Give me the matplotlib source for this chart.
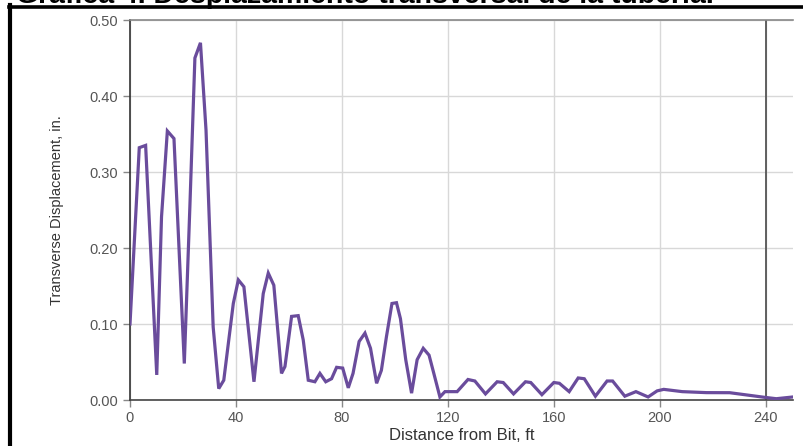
import matplotlib.pyplot as plt
from matplotlib.lines import Line2D

# Desplazamiento transversal vs distancia desde la broca
dist_ft = [0, 3.5, 5.9, 10.1, 11.9, 14.1, 16.6, 20.5, 22.6, 24.5, 26.6, 28.7,
           31.4, 33.5, 35.4, 39.0, 40.9, 43.0, 46.8, 50.3, 52.2, 54.3, 57.2,
           58.5, 61.0, 63.5, 65.4, 67.3, 69.8, 71.7, 73.9, 76.1, 78.0, 80.3,
           82.4, 84.2, 86.5, 88.7, 90.8, 93.1, 94.9, 96.8, 98.9, 100.6, 102.1,
           104.1, 106.3, 108.4, 110.7, 112.9, 114.7, 117.0, 118.9, 123.5,
           127.6, 130.2, 134.2, 138.6, 140.9, 144.8, 149.3, 151.3, 155.5,
           160.0, 162.1, 165.8, 169.2, 171.5, 175.7, 180.1, 182.2, 186.8,
           191.0, 195.6, 199.0, 201.5, 208.5, 217.6, 226.4, 239.6, 244.0, 250.3]
desp_in = [0.100, 0.332, 0.335, 0.033, 0.241, 0.354, 0.344, 0.048, 0.254,
           0.450, 0.470, 0.355, 0.096, 0.015, 0.026, 0.127, 0.158, 0.149,
           0.024, 0.140, 0.167, 0.151, 0.035, 0.044, 0.110, 0.111, 0.079,
           0.026, 0.024, 0.035, 0.024, 0.028, 0.043, 0.042, 0.016, 0.035,
           0.077, 0.088, 0.068, 0.022, 0.039, 0.083, 0.127, 0.128, 0.107,
           0.053, 0.009, 0.053, 0.068, 0.059, 0.035, 0.004, 0.011, 0.011,
           0.027, 0.025, 0.008, 0.024, 0.023, 0.008, 0.024, 0.023, 0.007,
           0.023, 0.022, 0.011, 0.029, 0.028, 0.005, 0.025, 0.025, 0.005,
           0.011, 0.004, 0.012, 0.014, 0.011, 0.0097, 0.0096, 0.0035, 0.0017,
           0.004]

xticks = [0, 40, 80, 120, 160, 200, 240]
yticks = [0.0, 0.1, 0.2, 0.3, 0.4, 0.5]

plt.rcParams['font.family'] = ['Liberation Sans', 'DejaVu Sans']

fig = plt.figure(figsize=(8.04, 4.46), dpi=100)
ax = fig.add_axes([130 / 804, 1 - 400 / 446, 663 / 804, 380 / 446])

ax.plot(dist_ft, desp_in, color='#6a4c9c', lw=2.3, solid_joinstyle='miter', zorder=3)

ax.set_xlim(0, 250.3)
ax.set_ylim(0, 0.5)
ax.set_xticks(xticks)
ax.set_yticks(yticks)
ax.set_yticklabels([f'{v:.2f}' for v in yticks])
ax.grid(True, color='#d8d8d8', lw=1)
ax.set_axisbelow(True)

# linea vertical en 240 ft
ax.axvline(240, color='#555555', lw=1.3, zorder=2)

ax.spines['right'].set_visible(False)
ax.spines['top'].set_color('#888888')
ax.spines['left'].set_color('#333333')
ax.spines['bottom'].set_color('#444444')
for s in ['top', 'left', 'bottom']:
    ax.spines[s].set_linewidth(1.2)

ax.tick_params(axis='both', colors='#888888', labelcolor='#555555',
               labelsize=10.5, length=5, width=1)
ax.tick_params(axis='x', pad=3)

ax.set_xlabel('Distance from Bit, ft', fontsize=12, color='#333333', labelpad=2)
ax.set_ylabel('Transverse Displacement, in.', fontsize=10.5, color='#333333', labelpad=18)

# marco negro y titulo recortado
fig.add_artist(Line2D([10 / 804, 10 / 804], [0, 1 - 5 / 446],
                      transform=fig.transFigure, color='black', lw=3))
fig.add_artist(Line2D([8.5 / 804, 1], [1 - 6.5 / 446, 1 - 6.5 / 446],
                      transform=fig.transFigure, color='black', lw=2.6))
fig.text(16 / 804, 1 - 3 / 446, 'Gráfica 4. Desplazamiento transversal de la tubería.',
         fontsize=20.5, fontweight='bold', color='black', va='baseline', ha='left')

fig.savefig('out.png', dpi=100)
